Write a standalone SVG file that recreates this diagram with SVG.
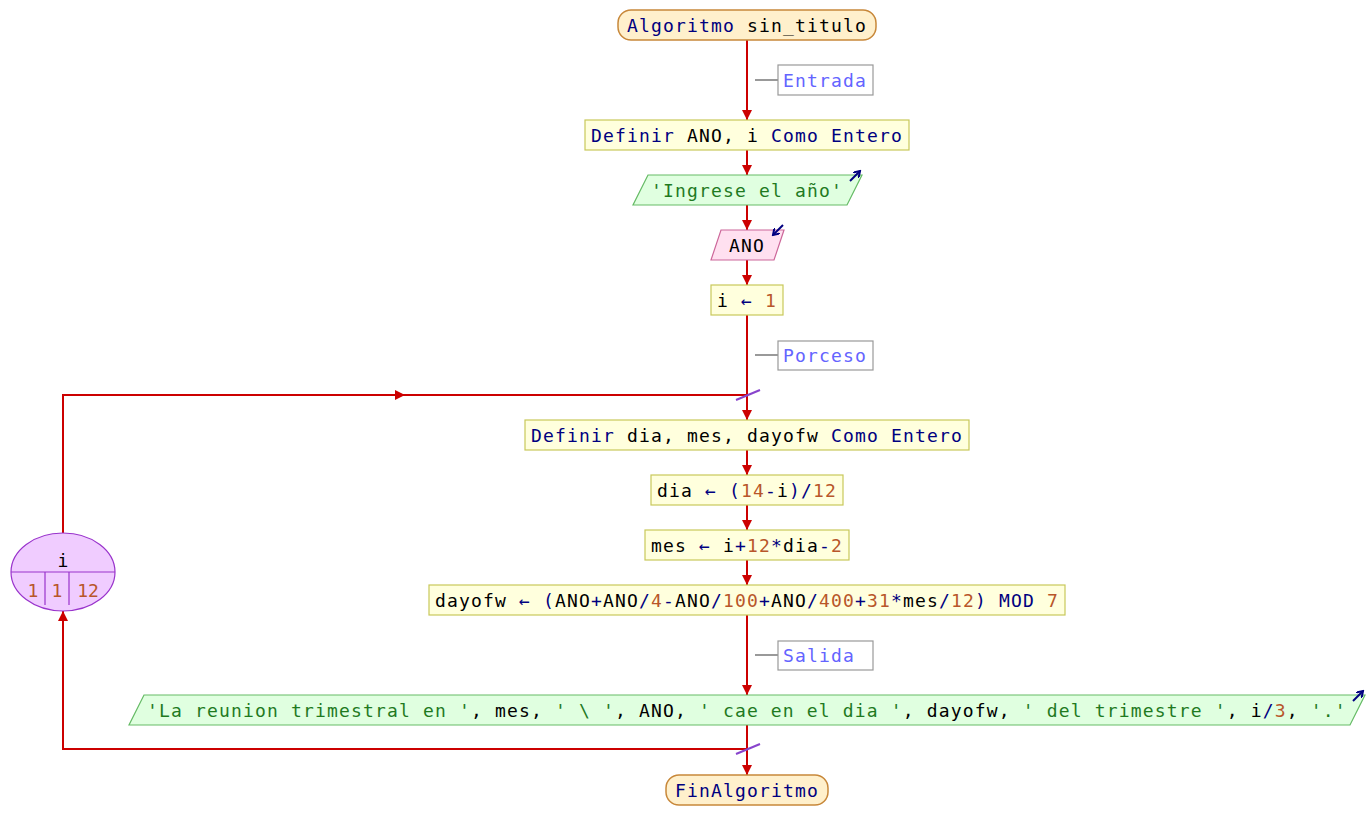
<svg xmlns="http://www.w3.org/2000/svg" width="1369" height="840" viewBox="0 0 1369 840">
  <style>
    text { font-family: "DejaVu Sans Mono", "Liberation Mono", monospace; font-size: 18px; letter-spacing: 1.16px; fill: #000; }
    .kw { fill: #000080; }
    .num { fill: #b8562a; }
    .str { fill: #1f7a1f; }
    .cmt { fill: #6464ff; }
    .proc { fill: #ffffdd; stroke: #c8c85a; stroke-width: 1.2; }
    .term { fill: #fff0cc; stroke: #c8883a; stroke-width: 1.5; }
    .out { fill: #e0ffe0; stroke: #66bb66; stroke-width: 1.2; }
    .in { fill: #ffe0f0; stroke: #cc6699; stroke-width: 1.2; }
    .note { fill: #ffffff; stroke: #999999; stroke-width: 1.2; }
    .noteline { stroke: #999999; stroke-width: 2; }
    .flow { fill: none; stroke: #cc0000; stroke-width: 2; }
    .join { stroke: #8844cc; stroke-width: 2; }
    .io { fill: none; stroke: #000080; stroke-width: 2; }
    .loop { fill: #f0ccff; stroke: #9933cc; stroke-width: 1.2; }
  </style>
  <defs>
    <marker id="ah" markerUnits="userSpaceOnUse" markerWidth="12" markerHeight="10" refX="10" refY="5" orient="auto">
      <path d="M0,0 L10,5 L0,10 z" fill="#cc0000"/>
    </marker>
    <marker id="ioh" markerUnits="userSpaceOnUse" markerWidth="8" markerHeight="8" refX="6" refY="4" orient="auto">
      <path d="M0,0 L6,4 L0,8" fill="none" stroke="#000080" stroke-width="2"/>
    </marker>
  </defs>

  <!-- connectors -->
  <g id="connectors">
    <line class="flow" x1="747" y1="40" x2="747" y2="120" marker-end="url(#ah)"/>
    <line class="flow" x1="747" y1="150" x2="747" y2="175" marker-end="url(#ah)"/>
    <line class="flow" x1="747" y1="205" x2="747" y2="230" marker-end="url(#ah)"/>
    <line class="flow" x1="747" y1="260" x2="747" y2="285" marker-end="url(#ah)"/>
    <line class="flow" x1="747" y1="315" x2="747" y2="420" marker-end="url(#ah)"/>
    <line class="flow" x1="747" y1="450" x2="747" y2="475" marker-end="url(#ah)"/>
    <line class="flow" x1="747" y1="505" x2="747" y2="530" marker-end="url(#ah)"/>
    <line class="flow" x1="747" y1="560" x2="747" y2="585" marker-end="url(#ah)"/>
    <line class="flow" x1="747" y1="615" x2="747" y2="695" marker-end="url(#ah)"/>
    <line class="flow" x1="747" y1="725" x2="747" y2="775" marker-end="url(#ah)"/>
    <!-- loop return: from loop head up and back into the body -->
    <path class="flow" d="M63,533 V395 H405" marker-end="url(#ah)"/>
    <line class="flow" x1="403" y1="395" x2="747" y2="395"/>
    <!-- loop exit: from end of body down to the loop head -->
    <path class="flow" d="M747,749 H63 V611" marker-end="url(#ah)"/>
    <!-- junction marks -->
    <line class="join" x1="736" y1="400" x2="760" y2="390"/>
    <line class="join" x1="736" y1="754" x2="760" y2="744"/>
    <!-- comment leaders -->
    <line class="noteline" x1="755" y1="80" x2="778" y2="80"/>
    <line class="noteline" x1="755" y1="355" x2="778" y2="355"/>
    <line class="noteline" x1="755" y1="655" x2="778" y2="655"/>
  </g>

  <g id="start">
    <rect class="term" x="618" y="10" width="258" height="30" rx="13" ry="13"/>
    <text x="627" y="32"><tspan class="kw">Algoritmo</tspan> sin_titulo</text>
  </g>

  <g id="note-entrada">
    <rect class="note" x="778" y="65" width="95" height="30"/>
    <text class="cmt" x="783" y="87">Entrada</text>
  </g>

  <g id="def1">
    <rect class="proc" x="585" y="120" width="324" height="30"/>
    <text x="591" y="142"><tspan class="kw">Definir</tspan> ANO, i <tspan class="kw">Como Entero</tspan></text>
  </g>

  <g id="out1">
    <polygon class="out" points="648,175 862,175 847,205 633,205"/>
    <text class="str" x="651" y="197">'Ingrese el año'</text>
    <line class="io" x1="850" y1="181" x2="860" y2="171" marker-end="url(#ioh)"/>
  </g>

  <g id="in1">
    <polygon class="in" points="721,230 784,230 774,260 711,260"/>
    <text x="729" y="252">ANO</text>
    <line class="io" x1="783" y1="225" x2="773" y2="235" marker-end="url(#ioh)"/>
  </g>

  <g id="init">
    <rect class="proc" x="711" y="285" width="72" height="30"/>
    <text x="717" y="307">i <tspan class="kw">←</tspan> <tspan class="num">1</tspan></text>
  </g>

  <g id="note-proceso">
    <rect class="note" x="778" y="341" width="95" height="29"/>
    <text class="cmt" x="783" y="362">Porceso</text>
  </g>

  <g id="loop-head">
    <ellipse class="loop" cx="63" cy="572" rx="52" ry="39"/>
    <line stroke="#9933cc" stroke-width="1.2" x1="11" y1="572" x2="115" y2="572"/>
    <line stroke="#9933cc" stroke-width="1.2" x1="45" y1="572" x2="45" y2="605"/>
    <line stroke="#9933cc" stroke-width="1.2" x1="69" y1="572" x2="69" y2="605"/>
    <text x="63" y="567" text-anchor="middle" style="letter-spacing:0">i</text>
    <text class="num" x="33" y="597" text-anchor="middle" style="letter-spacing:0">1</text>
    <text class="num" x="57" y="597" text-anchor="middle" style="letter-spacing:0">1</text>
    <text class="num" x="88" y="597" text-anchor="middle" style="letter-spacing:0">12</text>
  </g>

  <g id="def2">
    <rect class="proc" x="525" y="420" width="444" height="30"/>
    <text x="531" y="442"><tspan class="kw">Definir</tspan> dia, mes, dayofw <tspan class="kw">Como Entero</tspan></text>
  </g>

  <g id="asg-dia">
    <rect class="proc" x="651" y="475" width="192" height="30"/>
    <text x="657" y="497">dia <tspan class="kw">← (</tspan><tspan class="num">14</tspan><tspan class="kw">-</tspan>i<tspan class="kw">)/</tspan><tspan class="num">12</tspan></text>
  </g>

  <g id="asg-mes">
    <rect class="proc" x="645" y="530" width="204" height="30"/>
    <text x="651" y="552">mes <tspan class="kw">←</tspan> i<tspan class="kw">+</tspan><tspan class="num">12</tspan><tspan class="kw">*</tspan>dia<tspan class="kw">-</tspan><tspan class="num">2</tspan></text>
  </g>

  <g id="asg-dayofw">
    <rect class="proc" x="429" y="585" width="636" height="30"/>
    <text x="435" y="607">dayofw <tspan class="kw">← (</tspan>ANO<tspan class="kw">+</tspan>ANO<tspan class="kw">/</tspan><tspan class="num">4</tspan><tspan class="kw">-</tspan>ANO<tspan class="kw">/</tspan><tspan class="num">100</tspan><tspan class="kw">+</tspan>ANO<tspan class="kw">/</tspan><tspan class="num">400</tspan><tspan class="kw">+</tspan><tspan class="num">31</tspan><tspan class="kw">*</tspan>mes<tspan class="kw">/</tspan><tspan class="num">12</tspan><tspan class="kw">) MOD</tspan> <tspan class="num">7</tspan></text>
  </g>

  <g id="note-salida">
    <rect class="note" x="778" y="641" width="95" height="29"/>
    <text class="cmt" x="783" y="662">Salida</text>
  </g>

  <g id="out2">
    <polygon class="out" points="144,695 1365,695 1350,725 129,725"/>
    <text x="147" y="717"><tspan class="str">'La reunion trimestral en '</tspan>, mes, <tspan class="str">' \ '</tspan>, ANO, <tspan class="str">' cae en el dia '</tspan>, dayofw, <tspan class="str">' del trimestre '</tspan>, i<tspan class="kw">/</tspan><tspan class="num">3</tspan>, <tspan class="str">'.'</tspan></text>
    <line class="io" x1="1353" y1="701" x2="1363" y2="691" marker-end="url(#ioh)"/>
  </g>

  <g id="end">
    <rect class="term" x="666" y="775" width="162" height="30" rx="13" ry="13"/>
    <text class="kw" x="675" y="797">FinAlgoritmo</text>
  </g>
</svg>
